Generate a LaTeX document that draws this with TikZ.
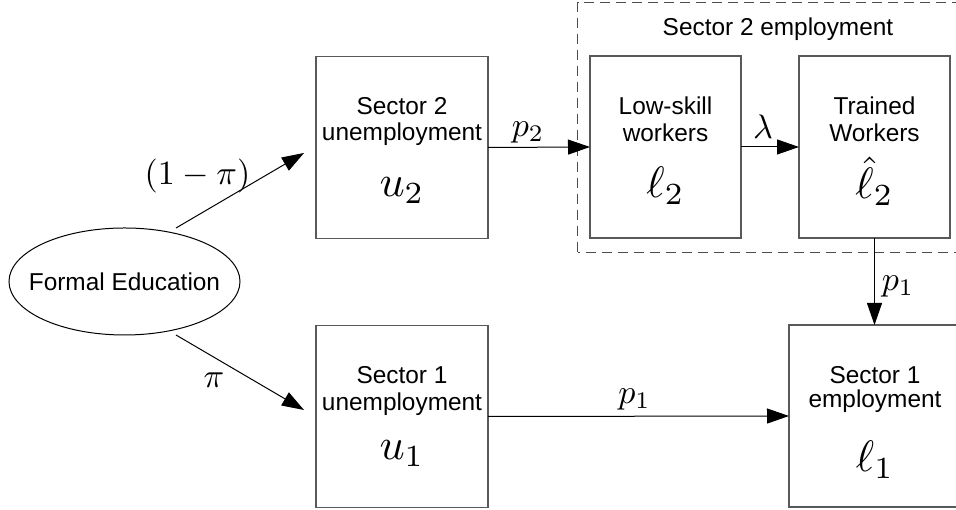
\documentclass[tikz,border=0pt]{standalone}
\usepackage{graphicx}
\usepackage{fontspec}
\setmainfont{Liberation Sans}
\usetikzlibrary{arrows.meta,shapes.geometric,calc}
\newcommand\scmath[1]{\scalebox{3.4}{$#1$}}
\newcommand\bxmath[1]{\scalebox{4.4}{$#1$}}
\begin{document}
\begin{tikzpicture}[x=1pt,y=1pt,
  box/.style={draw=black!65,line width=1.2pt,minimum width=#1,minimum height=182pt,inner sep=0pt,outer sep=0pt},
  txt/.style={font=\fontsize{24.4}{27}\selectfont,anchor=base,inner sep=0pt},
  mth/.style={inner sep=0pt},
  mthb/.style={inner sep=0pt,anchor=base},
  arr/.style={-{Triangle[length=22pt,width=15pt]},line width=1pt,draw=black},
  grp/.style={draw=black!70,line width=1pt,dash pattern=on 10pt off 6pt}]
\useasboundingbox (0,0) rectangle (956,510);
\fill[white] (0,0) rectangle (956,510);
% group
\draw[grp] (577.5,257.5) rectangle (985,507);
\node[txt] (gt) at (778,474) {Sector 2 employment};
% ellipse
\node[ellipse,draw=black,line width=1pt,minimum width=231pt,minimum height=107pt,inner sep=0pt] (ell) at (124.5,228.5) {};
\node[txt] (et) at (124.5,219.3) {Formal Education};
% boxes
\node[box=172] (u2) at (402,362.5) {};
\node[box=172] (u1) at (402,93.5) {};
\node[box=151] (l2) at (665.5,363) {};
\node[box=151] (lh2) at (874.5,363) {};
\node[box=172] (l1) at (875,94) {};
% box texts
\node[txt] (u2a) at (402,395) {Sector 2};
\node[txt] (u2b) at (402,369) {unemployment};
\node[mthb] (u2c) at (402,313) {\bxmath{u_2}};
\node[txt] (u1a) at (402,126) {Sector 1};
\node[txt] (u1b) at (402,99.5) {unemployment};
\node[mthb] (u1c) at (402,50) {\bxmath{u_1}};
\node[txt] (l2a) at (665.5,395) {Low-skill};
\node[txt] (l2b) at (665.5,368.5) {workers};
\node[mthb] (l2c) at (665.5,312) {\bxmath{\ell_2}};
\node[txt] (lh2a) at (874.5,395) {Trained};
\node[txt] (lh2b) at (874.5,368.5) {Workers};
\node[mthb] (lh2c) at (874.5,311) {\bxmath{\hat{\ell}_2}};
\node[txt] (l1a) at (875,126) {Sector 1};
\node[txt] (l1b) at (875,102.5) {employment};
\node[mthb] (l1c) at (875,38) {\bxmath{\ell_1}};
% connectors
\coordinate (e1) at ($(ell.center)+(51.5,53.5)$);
\coordinate (e2) at ($(ell.center)+(51.5,-53.5)$);
\draw[arr] (e1) -- ($(u2.west)+(-12,-5.5)$);
\draw[arr] (e2) -- ($(u1.west)+(-12,6.5)$);
\draw[arr] (u2.east) -- (l2.west);
\draw[arr] (l2.east) -- (lh2.west);
\draw[arr] (lh2.south) -- (lh2.south |- l1.north);
\draw[arr] (u1.east) -- (l1.west);
% labels
\node[mth] (lb1) at (197.5,333.5) {\scmath{(1-\pi)}};
\node[mth] (lb2) at (214,130) {\scmath{\pi}};
\node[mth] (lb3) at (528,378) {\scmath{p_2}};
\node[mth] (lb4) at (763,383) {\scmath{\lambda}};
\node[mth] (lb5) at (898,224) {\scmath{p_1}};
\node[mth] (lb6) at (634.5,111) {\scmath{p_1}};
\end{tikzpicture}
\end{document}
